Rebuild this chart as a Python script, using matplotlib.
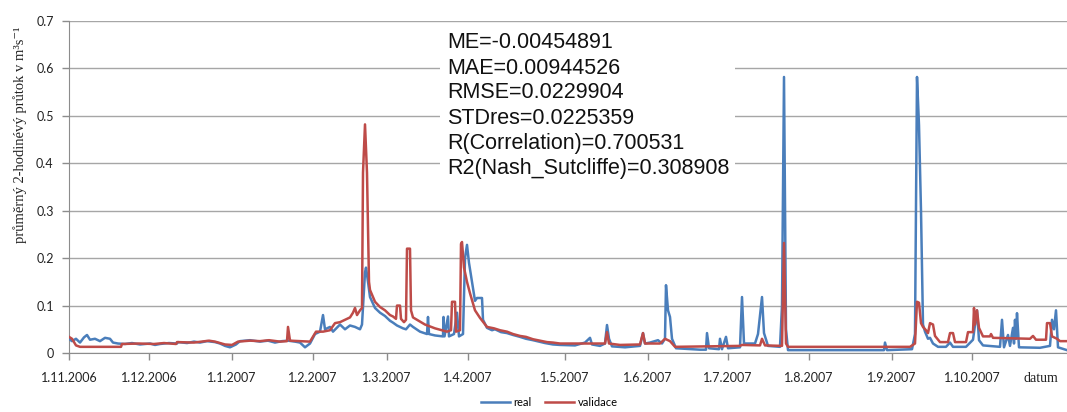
import matplotlib
matplotlib.use("Agg")
import matplotlib.pyplot as plt

# record position along the chart (Excel category axis), month starts, labels
month_pos = [0, 80, 163, 244, 318, 399, 496, 579, 659, 740, 823, 903]
month_labels = ["1.11.2006", "1.12.2006", "1.1.2007", "1.2.2007", "1.3.2007", "1.4.2007",
                "1.5.2007", "1.6.2007", "1.7.2007", "1.8.2007", "1.9.2007", "1.10.2007"]
x_end = 998

# measured discharge ("real")
real_x = [0, 3, 7, 11, 15, 18, 21, 26, 31, 36,
          41, 44, 49, 56, 63, 71, 81, 86, 91, 100,
          108, 109, 118, 125, 131, 138, 146, 151, 156, 161,
          167, 171, 181, 191, 199, 206, 213, 219, 226, 231,
          236, 241, 246, 251, 254, 256, 261, 264, 271, 276,
          281, 286, 291, 293, 296, 297, 299, 301, 306, 311,
          316, 321, 324, 328, 334, 337, 341, 344, 351, 358,
          359, 360, 366, 374, 374.5, 375.5, 379, 380, 385, 388,
          390, 394, 396, 398, 400, 403, 406, 408, 413, 414,
          418, 423, 426, 432, 438, 444, 451, 457, 464, 470,
          476, 484, 491, 506, 516, 521, 523, 531, 536, 538,
          540, 543, 556, 571, 574, 576, 581, 589, 593, 596,
          597, 599, 601, 603, 607, 631, 637, 638, 640, 650,
          651, 653, 657, 659, 671, 673, 675, 686, 689, 693,
          695, 699, 711, 713, 715, 717, 719, 781, 815, 816,
          818, 843, 846, 848, 850, 852, 854, 856, 859, 861,
          864, 869, 877, 881, 884, 897, 904, 908, 910, 914,
          931, 933, 935, 939, 941, 944, 945, 946, 947, 948,
          950, 971, 981, 983, 985, 987, 989, 998]
real_y = [0.030, 0.025, 0.030, 0.022, 0.033, 0.038, 0.028, 0.030, 0.025, 0.032,
          0.030, 0.022, 0.020, 0.019, 0.021, 0.018, 0.020, 0.017, 0.019, 0.021,
          0.020, 0.023, 0.021, 0.024, 0.022, 0.025, 0.023, 0.020, 0.015, 0.012,
          0.018, 0.025, 0.027, 0.024, 0.026, 0.022, 0.025, 0.026, 0.024, 0.022,
          0.012, 0.020, 0.040, 0.045, 0.080, 0.050, 0.055, 0.045, 0.060, 0.050,
          0.058, 0.055, 0.050, 0.060, 0.170, 0.180, 0.150, 0.118, 0.095, 0.085,
          0.078, 0.068, 0.064, 0.058, 0.052, 0.050, 0.060, 0.055, 0.045, 0.040,
          0.076, 0.040, 0.037, 0.035, 0.076, 0.035, 0.077, 0.035, 0.040, 0.085,
          0.035, 0.040, 0.200, 0.228, 0.190, 0.150, 0.110, 0.116, 0.116, 0.070,
          0.053, 0.048, 0.050, 0.044, 0.042, 0.038, 0.034, 0.030, 0.027, 0.024,
          0.021, 0.018, 0.017, 0.016, 0.022, 0.032, 0.018, 0.015, 0.020, 0.059,
          0.030, 0.014, 0.012, 0.015, 0.042, 0.020, 0.022, 0.027, 0.020, 0.030,
          0.143, 0.090, 0.076, 0.030, 0.010, 0.007, 0.007, 0.042, 0.010, 0.008,
          0.030, 0.008, 0.034, 0.010, 0.012, 0.118, 0.020, 0.020, 0.040, 0.118,
          0.042, 0.015, 0.013, 0.100, 0.582, 0.050, 0.006, 0.006, 0.006, 0.022,
          0.006, 0.008, 0.040, 0.582, 0.480, 0.300, 0.060, 0.045, 0.030, 0.032,
          0.020, 0.013, 0.013, 0.022, 0.013, 0.013, 0.028, 0.090, 0.027, 0.016,
          0.013, 0.070, 0.012, 0.038, 0.015, 0.053, 0.020, 0.070, 0.030, 0.084,
          0.012, 0.011, 0.015, 0.070, 0.050, 0.090, 0.012, 0.006]

# model output ("validace")
val_x = [0, 3, 7, 11, 52, 53, 70, 85, 95, 107,
         108, 125, 140, 146, 156, 163, 169, 181, 191, 200,
         211, 218, 219, 221, 241, 247, 254, 261, 266, 271,
         276, 281, 284, 286, 288, 291, 293, 294, 296, 298,
         300, 301, 306, 311, 316, 321, 324, 327, 328, 331,
         332, 335, 337, 338, 341, 342, 344, 356, 366, 378,
         382, 383, 386, 387, 391, 392, 393, 395, 398, 401,
         406, 411, 418, 425, 431, 438, 444, 451, 457, 464,
         471, 478, 484, 491, 521, 536, 538, 540, 551, 571,
         574, 576, 591, 596, 601, 606, 671, 673, 691, 693,
         696, 713, 715, 717, 719, 841, 846, 848, 850, 852,
         854, 857, 859, 861, 864, 866, 871, 879, 881, 884,
         886, 897, 899, 904, 905, 906, 908, 910, 914, 921,
         922, 924, 961, 964, 967, 977, 978, 981, 983, 988,
         991, 998]
val_y = [0.034, 0.030, 0.016, 0.013, 0.013, 0.019, 0.020, 0.019, 0.021, 0.019,
         0.023, 0.022, 0.026, 0.024, 0.018, 0.017, 0.024, 0.026, 0.025, 0.027,
         0.024, 0.025, 0.055, 0.026, 0.024, 0.045, 0.045, 0.048, 0.063, 0.065,
         0.070, 0.075, 0.085, 0.095, 0.080, 0.090, 0.095, 0.380, 0.482, 0.380,
         0.150, 0.133, 0.108, 0.097, 0.090, 0.080, 0.077, 0.072, 0.100, 0.100,
         0.072, 0.065, 0.070, 0.220, 0.220, 0.090, 0.075, 0.060, 0.052, 0.045,
         0.048, 0.108, 0.108, 0.045, 0.048, 0.230, 0.234, 0.180, 0.150, 0.126,
         0.090, 0.074, 0.055, 0.052, 0.048, 0.045, 0.040, 0.036, 0.034, 0.029,
         0.026, 0.023, 0.022, 0.020, 0.020, 0.020, 0.044, 0.020, 0.017, 0.018,
         0.042, 0.020, 0.020, 0.030, 0.025, 0.013, 0.015, 0.017, 0.016, 0.030,
         0.016, 0.015, 0.232, 0.020, 0.013, 0.013, 0.020, 0.108, 0.106, 0.063,
         0.055, 0.048, 0.042, 0.063, 0.060, 0.036, 0.023, 0.023, 0.042, 0.042,
         0.023, 0.023, 0.044, 0.044, 0.095, 0.060, 0.090, 0.053, 0.035, 0.035,
         0.040, 0.032, 0.030, 0.036, 0.028, 0.028, 0.063, 0.063, 0.035, 0.030,
         0.025, 0.025]

stats = ["ME=-0.00454891", "MAE=0.00944526", "RMSE=0.0229904", "STDres=0.0225359",
         "R(Correlation)=0.700531", "R2(Nash_Sutcliffe)=0.308908"]

BLUE = "#4a7ebb"
RED = "#be4b48"
GRID = "#a6a6a6"

fig = plt.figure(figsize=(10.67, 4.12), dpi=100)
ax = fig.add_axes([69 / 1067, 59 / 412, 998 / 1067, 332 / 412])

ax.plot(real_x, real_y, color=BLUE, lw=1.8, label="real", zorder=3)
ax.plot(val_x, val_y, color=RED, lw=1.8, label="validace", zorder=4)

ax.set_xlim(0, x_end)
ax.set_ylim(0, 0.7)
ax.set_yticks([0, 0.1, 0.2, 0.3, 0.4, 0.5, 0.6, 0.7])
ax.set_yticklabels(["0", "0.1", "0.2", "0.3", "0.4", "0.5", "0.6", "0.7"])
ax.set_xticks(month_pos)
ax.set_xticklabels(month_labels)
ax.grid(axis="y", color=GRID, lw=1.0)
ax.set_axisbelow(True)
for s in ("top", "right"):
    ax.spines[s].set_visible(False)
for s in ("left", "bottom"):
    ax.spines[s].set_color("#8c8c8c")
ax.tick_params(axis="both", colors="#8c8c8c", labelcolor="#222", length=5, width=1)
ax.tick_params(axis="x", pad=9)
ax.tick_params(axis="y", pad=6)
for lbl in ax.get_xticklabels() + ax.get_yticklabels():
    lbl.set_fontfamily("Lato")
    lbl.set_fontsize(9)

# statistics box (white patch hides the gridlines behind the text)
fig.patches.append(plt.Rectangle((440 / 1067, 1 - 205 / 412), 295 / 1067, 180 / 412,
                                 transform=fig.transFigure, facecolor="white",
                                 edgecolor="none", zorder=5))
for i, s in enumerate(stats):
    fig.text(447 / 1067, 1 - (43 + 25 * i) / 412, s, fontfamily="Liberation Sans",
             fontsize=15.5, color="#111", va="center", ha="left", zorder=6)

fig.text(20 / 1067, 1 - 135 / 412, "průměrný 2-hodinévý průtok v m³s⁻¹",
         rotation=90, ha="center", va="center",
         fontfamily=["Liberation Serif", "DejaVu Serif"], fontsize=10.5, color="#222")
fig.text(1041 / 1067, 1 - 379 / 412, "datum", ha="center", va="center",
         fontfamily="Liberation Serif", fontsize=10, color="#222")

fig.legend(loc="lower center", bbox_to_anchor=(0.515, -0.015), ncol=2, frameon=False,
           prop={"family": "Lato", "size": 8}, handlelength=2.6, columnspacing=1.2,
           handletextpad=0.3)

fig.savefig("out.png", dpi=100)
